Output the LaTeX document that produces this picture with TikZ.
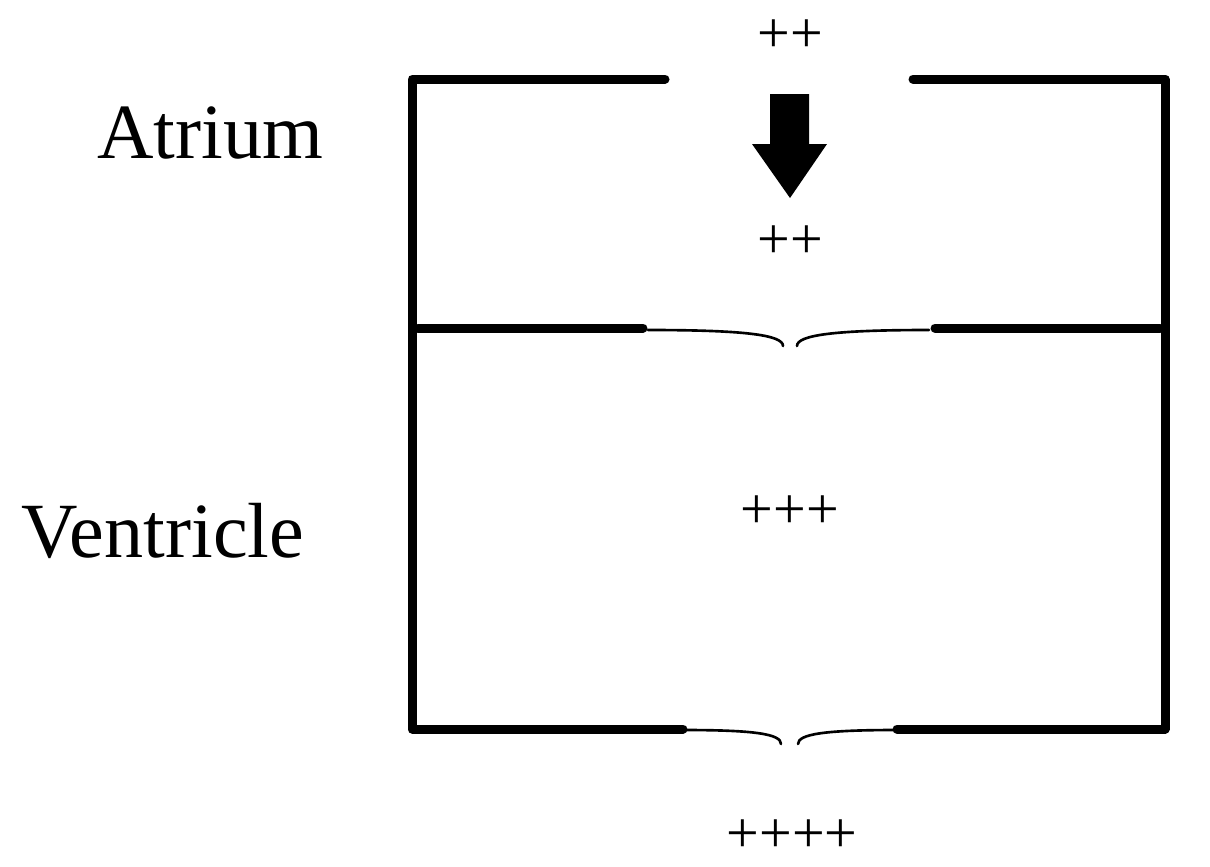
\documentclass[tikz,border=0pt]{standalone}
\usepackage{fontspec}
\setmainfont{Liberation Serif}
\usepackage{tikz}

\begin{document}
\begin{tikzpicture}[x=0.02cm,y=-0.02cm,
    wall/.style={line width=0.18cm, line cap=round, line join=round},
    leaflet/.style={line width=1.5pt, line cap=round},
    label/.style={font=\fontsize{44.5}{52}\selectfont, anchor=base},
    charge/.style={font=\fontsize{33}{38}\selectfont, inner sep=0pt}]
      \useasboundingbox (0,0) rectangle (1210,866);
      % outer walls of the two chambers
      \draw [wall] (665,79) -- (412,79) -- (412,729) -- (683,729);
      \draw [wall] (913,79) -- (1165,79) -- (1165,729) -- (897,729);
      % wall between atrium and ventricle
      \draw [wall] (418,328) -- (643,328);
      \draw [wall] (935,328) -- (1160,328);
      % valve leaflets
      \draw [leaflet] (648,330) .. controls (745,330) and (783,335) .. (783,346);
      \draw [leaflet] (797,346) .. controls (797,335) and (835,330) .. (929,330);
      \draw [leaflet] (683,730) .. controls (755,730) and (781,734) .. (781,744);
      \draw [leaflet] (798,744) .. controls (798,734) and (825,730) .. (897,730);
      % inflow arrow
      \fill (770,94) -- (809,94) -- (809,144) -- (827,144) -- (790,198)
        -- (752,144) -- (770,144) -- cycle;
      % labels
      \node [label] (atrium) at (210,158) {Atrium};
      \node [label] (ventricle) at (163,557) {Ventricle};
      \node [charge] (inflow) at (790,36) {++};
      \node [charge] (atrial) at (790,242) {++};
      \node [charge] (ventricular) at (790,512) {+++};
      \node [charge] (outflow) at (792,836) {++++};
    \end{tikzpicture}
\end{document}
